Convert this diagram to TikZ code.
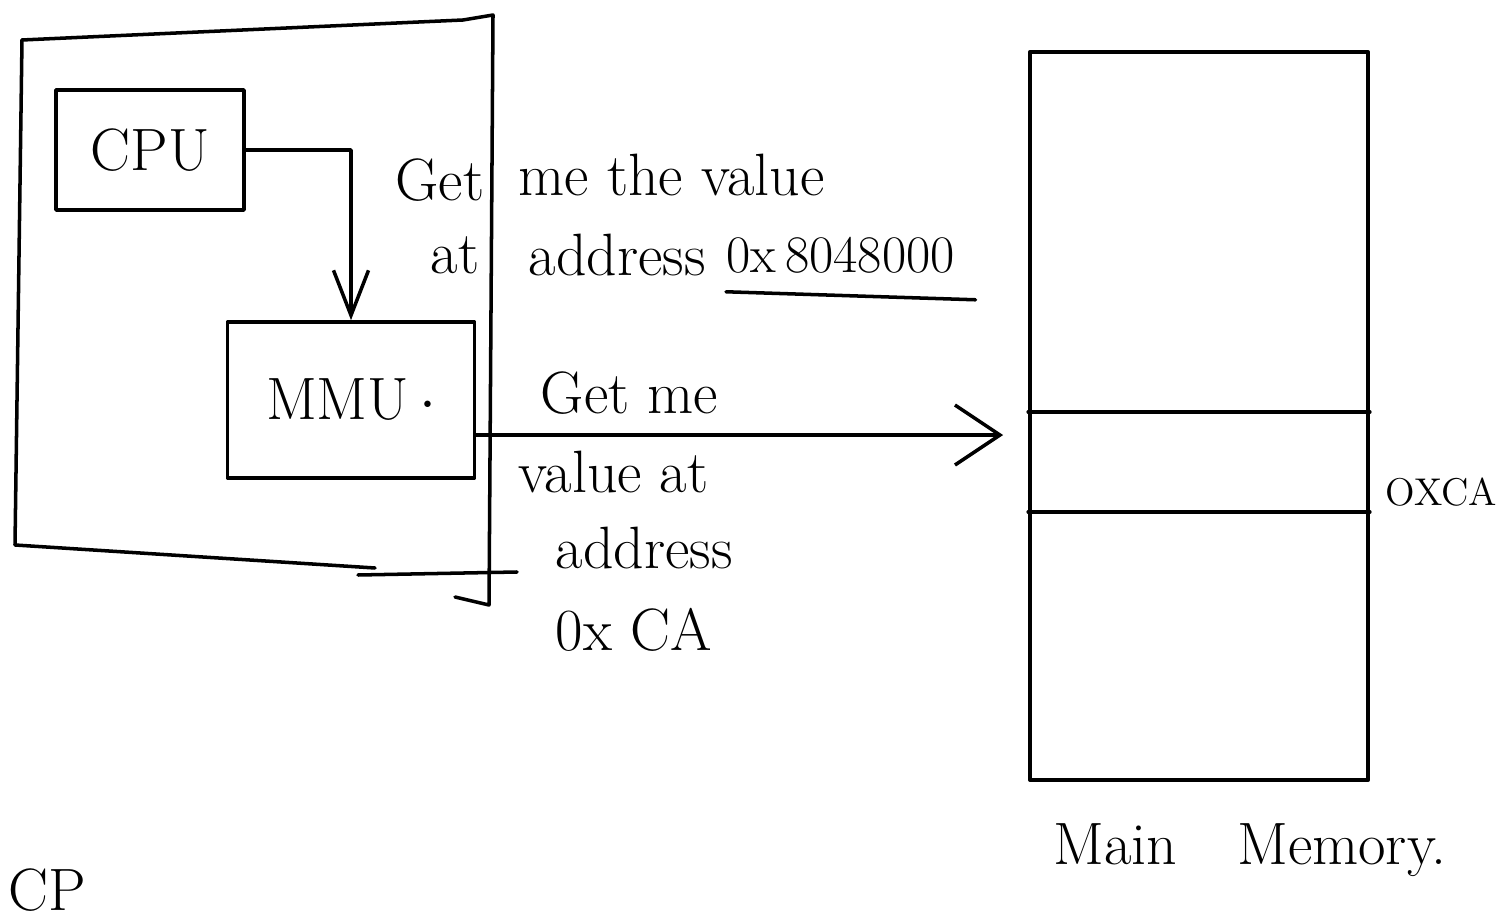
\documentclass[tikz,border=0pt]{standalone}
\usetikzlibrary{arrows.meta}

\begin{document}
\begin{tikzpicture}[x=0.01cm, y=-0.01cm]
\tikzset{pen/.style={line width=1pt, line cap=round, line join=round},
         unit/.style={pen, draw, rectangle, inner sep=0pt,
                      font=\fontsize{17}{20}\selectfont},
         note/.style={inner sep=0pt, font=\fontsize{17}{20}\selectfont},
         req/.style={pen, -{Straight Barb[length=4.5mm, width=3.5mm]}}}
\useasboundingbox (0,0) rectangle (1510,922);

% the machine: CPU and MMU
\draw[pen] (22,40) -- (463,20) -- (493,15) -- (489,605) -- (455,597);
\draw[pen] (22,40) -- (15,545) -- (375,568);
\draw[pen] (358,575) -- (517,572);
\node[unit, minimum width=1.88cm, minimum height=1.2cm] (cpu) at (150,150) {CPU};
\node[unit, minimum width=2.47cm, minimum height=1.56cm] (mmu) at (351,400) {MMU\,$\cdot$};

% main memory with one slot
\node[unit, minimum width=3.38cm, minimum height=7.28cm] (mem) at (1199,416) {};
\coordinate (slottop) at (0,412);
\coordinate (slotbot) at (0,512);
\draw[pen] (mem.west |- slottop) -- (mem.east |- slottop);
\draw[pen] (mem.west |- slotbot) -- (mem.east |- slotbot);
\node[note, anchor=west, font=\fontsize{11}{14}\selectfont] (slot) at (1385,492) {OXCA};
\node[note] (memname) at (1250,850) {Main\quad Memory.};

% requests
\draw[req] (cpu.east) -| (mmu.north);
\coordinate (mmuout) at ([yshift=-3.5mm]mmu.east);
\draw[req, -{Straight Barb[length=4.5mm, width=6mm]}, shorten >=2.5mm]
  (mmuout) -- (mem.west |- mmuout);

\node[note, anchor=east] (get) at (485,180) {Get};
\node[note, anchor=west] (getrest) at (518,175) {me the value};
\node[note, anchor=east] (at) at (480,255) {at};
\node[note, anchor=west] (addr) at (528,255) {address};
\node[note, anchor=west, font=\fontsize{15}{18}\selectfont] (virt) at (726,255) {0x\,8048000};
\draw[pen] ([yshift=-1.8mm]virt.south west) -- ([xshift=2mm, yshift=-2.6mm]virt.south east);

\node[note, anchor=west] (phys1) at (540,393) {Get me};
\node[note, anchor=west] (phys2) at (518,472) {value at};
\node[note, anchor=west] (phys3) at (555,548) {address};
\node[note, anchor=west] (phys4) at (555,630) {0x CA};

\node[note, anchor=south west] (cp) at (8,912) {CP};
\end{tikzpicture}
\end{document}
